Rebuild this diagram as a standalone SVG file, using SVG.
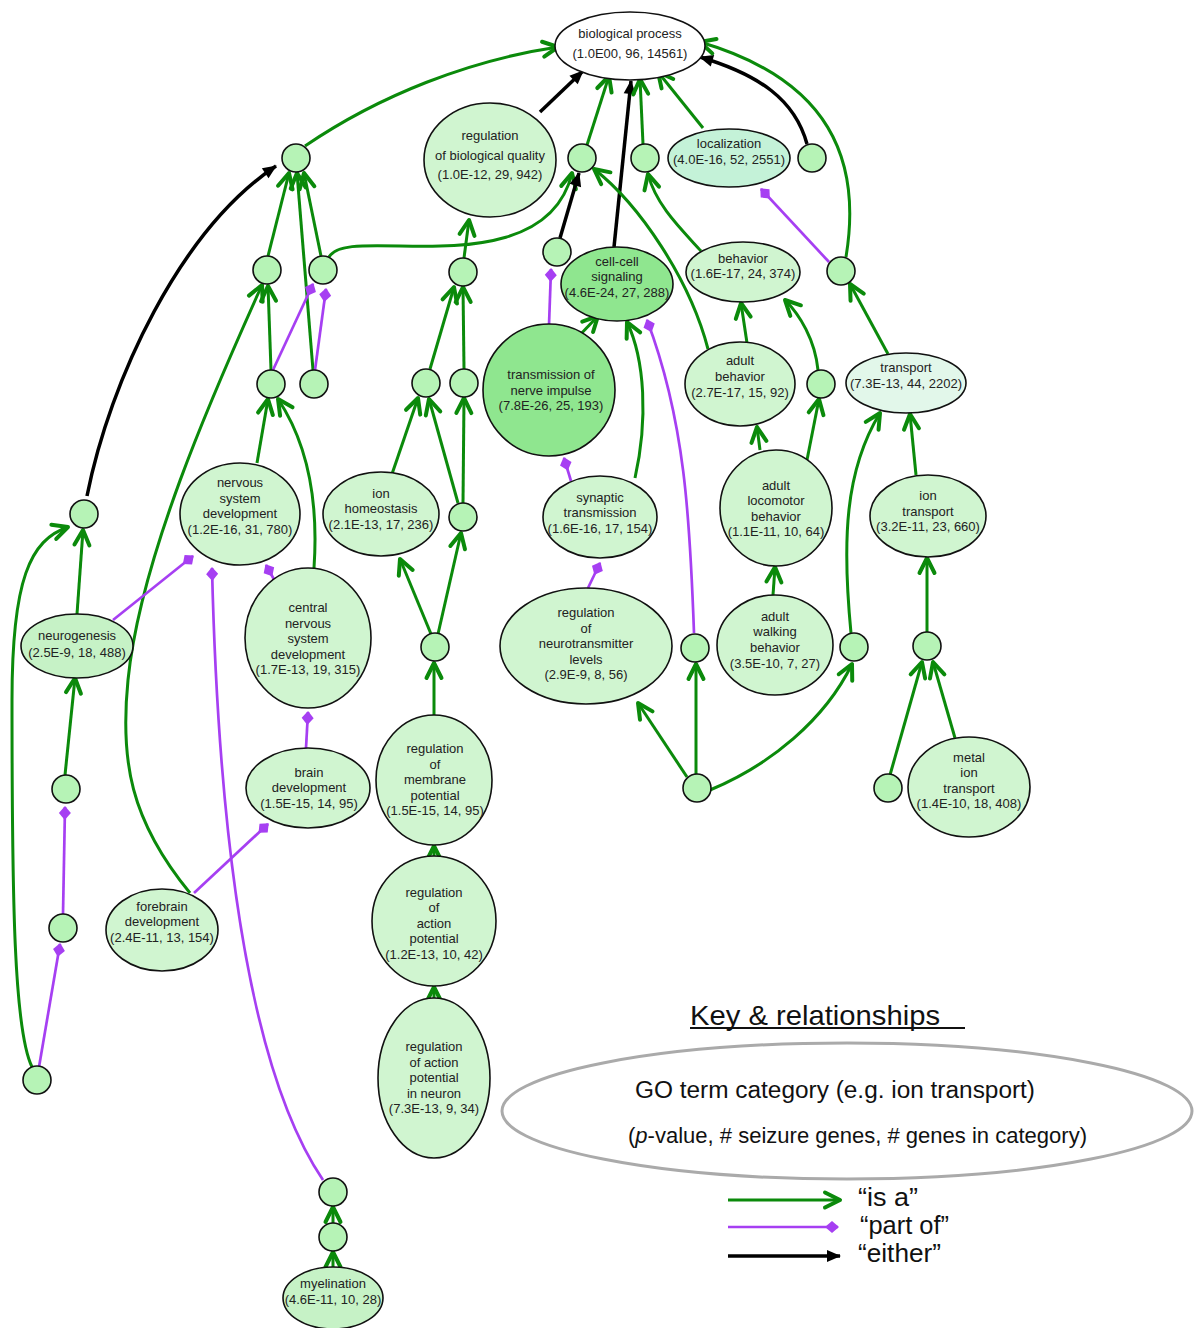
<svg xmlns="http://www.w3.org/2000/svg" width="1194" height="1328" viewBox="0 0 1194 1328">
<style>
.n{stroke:#111;stroke-width:1.6}
.sm{fill:#b6f3b6}
.lt{fill:#d0f5d0}
.dk{fill:#8fe68f}
.ng{fill:#c6f2c6}
.t{font-family:"Liberation Sans",Arial,sans-serif;font-size:13px;fill:#222;text-anchor:middle}
.isa{stroke:#0b8a0b;stroke-width:3;fill:none;marker-end:url(#mIsa)}
.either{stroke:#000;stroke-width:3.5;fill:none;marker-end:url(#mEither)}
.part{stroke:#a63ff2;stroke-width:2.7;fill:none;marker-end:url(#mPart)}
.lg{font-family:"Liberation Sans",Arial,sans-serif;fill:#111}
</style>
<defs>
<marker id="mIsa" viewBox="0 0 18 18" refX="16" refY="9" markerWidth="18" markerHeight="18" markerUnits="userSpaceOnUse" orient="auto" overflow="visible"><path d="M1,1.5 L16,9 L1,16.5" fill="none" stroke="#0b8a0b" stroke-width="4" stroke-linejoin="round" stroke-linecap="round"/></marker>
<marker id="mEither" viewBox="0 0 14 12" refX="13" refY="6" markerWidth="14" markerHeight="12" markerUnits="userSpaceOnUse" orient="auto" overflow="visible"><path d="M0,0 L14,6 L0,12 Z" fill="#000"/></marker>
<marker id="mPart" viewBox="0 0 14 12" refX="13" refY="6" markerWidth="14" markerHeight="12" markerUnits="userSpaceOnUse" orient="auto" overflow="visible"><path d="M0,6 L7,0 L14,6 L7,12 Z" fill="#a63ff2"/></marker>
</defs>
<rect width="1194" height="1328" fill="#fff"/>
<g id="connectors">
<path class="isa" d="M305,146 C380,95 470,60 558,47"/>
<path class="either" d="M540,112 L583,71"/>
<path class="isa" d="M587,145 L609,76"/>
<path class="either" d="M614,247 L631,81"/>
<path class="isa" d="M643,144 L640,79"/>
<path class="isa" d="M703,128 L658,72"/>
<path class="either" d="M807,144 C795,100 760,75 700,57"/>
<path class="isa" d="M846,257 C862,160 830,80 700,42"/>
<path class="either" d="M87,496 C110,380 180,230 276,166"/>
<path class="isa" d="M268,256 L289,173"/>
<path class="isa" d="M313,370 L297,173"/>
<path class="isa" d="M321,256 L304,173"/>
<path class="isa" d="M271,370 L268,286"/>
<path class="isa" d="M190,893 C130,820 120,760 128,680 C140,560 210,400 262,285"/>
<path class="isa" d="M329,257 C336,245 360,245 400,246 C470,248 555,245 572,173"/>
<path class="isa" d="M257,463 L268,399"/>
<path class="isa" d="M314,568 C318,510 312,450 278,399"/>
<path class="isa" d="M77,614 L83,530"/>
<path class="isa" d="M32,1067 C14,1030 12,900 12,700 C12,580 30,540 68,527"/>
<path class="isa" d="M65,775 L75,678"/>
<path class="isa" d="M333,1223 L333,1207"/>
<path class="isa" d="M333,1267 L333,1252"/>
<path class="isa" d="M464,258 L469,220"/>
<path class="isa" d="M430,369 L454,287"/>
<path class="isa" d="M464,369 L463,287"/>
<path class="isa" d="M392,474 L418,398"/>
<path class="isa" d="M458,503 L429,399"/>
<path class="isa" d="M463,503 L464,398"/>
<path class="isa" d="M431,634 L400,559"/>
<path class="isa" d="M438,634 L461,533"/>
<path class="isa" d="M434,715 L434,663"/>
<path class="isa" d="M434,856 L434,846"/>
<path class="isa" d="M434,998 L434,987"/>
<path class="either" d="M560,238 L579,173"/>
<path class="isa" d="M577,338 L598,316"/>
<path class="isa" d="M635,478 C648,420 645,360 627,322"/>
<path class="isa" d="M708,349 C690,280 640,205 594,169"/>
<path class="isa" d="M701,251 C680,228 656,205 648,174"/>
<path class="isa" d="M888,354 L850,284"/>
<path class="isa" d="M747,343 L741,303"/>
<path class="isa" d="M818,370 C815,340 800,315 785,300"/>
<path class="isa" d="M760,450 L757,427"/>
<path class="isa" d="M806,465 L819,399"/>
<path class="isa" d="M773,595 L775,567"/>
<path class="isa" d="M916,475 L910,414"/>
<path class="isa" d="M851,633 C842,540 845,470 880,413"/>
<path class="isa" d="M927,632 L927,558"/>
<path class="isa" d="M890,775 L922,662"/>
<path class="isa" d="M955,738 L933,662"/>
<path class="isa" d="M687,777 L638,703"/>
<path class="isa" d="M696,774 L696,664"/>
<path class="isa" d="M710,790 C770,765 825,720 852,664"/>
<path class="part" d="M273,370 L313,284"/>
<path class="part" d="M315,370 L326,289"/>
<path class="part" d="M113,620 L193,556"/>
<path class="part" d="M281,592 L266,565"/>
<path class="part" d="M323,1180 C262,1090 220,900 212,568"/>
<path class="part" d="M63,914 L65,807"/>
<path class="part" d="M39,1067 L60,944"/>
<path class="part" d="M306,748 L308,712"/>
<path class="part" d="M194,893 L268,824"/>
<path class="part" d="M549,325 L551,269"/>
<path class="part" d="M694,633 C690,520 685,420 647,320"/>
<path class="part" d="M571,481 L564,458"/>
<path class="part" d="M588,588 L600,563"/>
<path class="part" d="M829,262 L761,189"/>
</g>
<g id="n_bp"><ellipse class="n" cx="630" cy="46" rx="75" ry="34" fill="#fff"/><text class="t"><tspan x="630" y="38">biological process</tspan><tspan x="630" y="58">(1.0E00, 96, 14561)</tspan></text></g>
<g id="n_c1"><circle class="n sm" cx="296" cy="158" r="14"/></g>
<g id="n_regqual"><ellipse class="n lt" cx="490" cy="160" rx="66" ry="57"/><text class="t"><tspan x="490" y="140">regulation</tspan><tspan x="490" y="160">of biological quality</tspan><tspan x="490" y="179">(1.0E-12, 29, 942)</tspan></text></g>
<g id="n_c2"><circle class="n sm" cx="582" cy="158" r="14"/></g>
<g id="n_c3"><circle class="n sm" cx="645" cy="158" r="14"/></g>
<g id="n_localization"><ellipse class="n" cx="729" cy="158" rx="61" ry="29" fill="#c4f2d8"/><text class="t"><tspan x="729" y="148">localization</tspan><tspan x="729" y="164">(4.0E-16, 52, 2551)</tspan></text></g>
<g id="n_c4"><circle class="n sm" cx="812" cy="158" r="14"/></g>
<g id="n_c5"><circle class="n sm" cx="267" cy="270" r="14"/></g>
<g id="n_c6"><circle class="n sm" cx="323" cy="270" r="14"/></g>
<g id="n_c7"><circle class="n sm" cx="463" cy="272" r="14"/></g>
<g id="n_c8"><circle class="n sm" cx="557" cy="252" r="14"/></g>
<g id="n_cellcell"><ellipse class="n dk" cx="617" cy="284" rx="56" ry="37"/><text class="t"><tspan x="617" y="266">cell-cell</tspan><tspan x="617" y="281">signaling</tspan><tspan x="617" y="297">(4.6E-24, 27, 288)</tspan></text></g>
<g id="n_behavior"><ellipse class="n lt" cx="743" cy="272" rx="57" ry="30"/><text class="t"><tspan x="743" y="263">behavior</tspan><tspan x="743" y="278">(1.6E-17, 24, 374)</tspan></text></g>
<g id="n_c9"><circle class="n sm" cx="841" cy="271" r="14"/></g>
<g id="n_c10"><circle class="n sm" cx="271" cy="384" r="14"/></g>
<g id="n_c11"><circle class="n sm" cx="314" cy="384" r="14"/></g>
<g id="n_c12"><circle class="n sm" cx="426" cy="383" r="14"/></g>
<g id="n_c13"><circle class="n sm" cx="464" cy="383" r="14"/></g>
<g id="n_tni"><ellipse class="n dk" cx="549" cy="390" rx="66" ry="66"/><text class="t"><tspan x="551" y="379">transmission of</tspan><tspan x="551" y="395">nerve impulse</tspan><tspan x="551" y="410">(7.8E-26, 25, 193)</tspan></text></g>
<g id="n_adultbeh"><ellipse class="n lt" cx="740" cy="384" rx="55" ry="42"/><text class="t"><tspan x="740" y="365">adult</tspan><tspan x="740" y="381">behavior</tspan><tspan x="740" y="397">(2.7E-17, 15, 92)</tspan></text></g>
<g id="n_c14"><circle class="n sm" cx="821" cy="384" r="14"/></g>
<g id="n_transport"><ellipse class="n" cx="906" cy="383" rx="60" ry="30" fill="#e2f7ea"/><text class="t"><tspan x="906" y="372">transport</tspan><tspan x="906" y="388">(7.3E-13, 44, 2202)</tspan></text></g>
<g id="n_nsd"><ellipse class="n lt" cx="240" cy="514" rx="60" ry="51"/><text class="t"><tspan x="240" y="487">nervous</tspan><tspan x="240" y="503">system</tspan><tspan x="240" y="518">development</tspan><tspan x="240" y="534">(1.2E-16, 31, 780)</tspan></text></g>
<g id="n_c15"><circle class="n sm" cx="84" cy="514" r="14"/></g>
<g id="n_ionhomeo"><ellipse class="n lt" cx="381" cy="514" rx="58" ry="42"/><text class="t"><tspan x="381" y="498">ion</tspan><tspan x="381" y="513">homeostasis</tspan><tspan x="381" y="529">(2.1E-13, 17, 236)</tspan></text></g>
<g id="n_c16"><circle class="n sm" cx="463" cy="517" r="14"/></g>
<g id="n_synaptic"><ellipse class="n lt" cx="600" cy="517" rx="57" ry="41"/><text class="t"><tspan x="600" y="502">synaptic</tspan><tspan x="600" y="517">transmission</tspan><tspan x="600" y="533">(1.6E-16, 17, 154)</tspan></text></g>
<g id="n_adultloco"><ellipse class="n lt" cx="776" cy="508" rx="56" ry="58"/><text class="t"><tspan x="776" y="490">adult</tspan><tspan x="776" y="505">locomotor</tspan><tspan x="776" y="521">behavior</tspan><tspan x="776" y="536">(1.1E-11, 10, 64)</tspan></text></g>
<g id="n_iontransport"><ellipse class="n lt" cx="928" cy="516" rx="58" ry="41"/><text class="t"><tspan x="928" y="500">ion</tspan><tspan x="928" y="516">transport</tspan><tspan x="928" y="531">(3.2E-11, 23, 660)</tspan></text></g>
<g id="n_neurogenesis"><ellipse class="n ng" cx="77" cy="646" rx="56" ry="32"/><text class="t"><tspan x="77" y="640">neurogenesis</tspan><tspan x="77" y="657">(2.5E-9, 18, 488)</tspan></text></g>
<g id="n_cns"><ellipse class="n lt" cx="308" cy="638" rx="63" ry="70"/><text class="t"><tspan x="308" y="612">central</tspan><tspan x="308" y="628">nervous</tspan><tspan x="308" y="643">system</tspan><tspan x="308" y="659">development</tspan><tspan x="308" y="674">(1.7E-13, 19, 315)</tspan></text></g>
<g id="n_c17"><circle class="n sm" cx="435" cy="647" r="14"/></g>
<g id="n_regnt"><ellipse class="n lt" cx="586" cy="646" rx="86" ry="58"/><text class="t"><tspan x="586" y="617">regulation</tspan><tspan x="586" y="633">of</tspan><tspan x="586" y="648">neurotransmitter</tspan><tspan x="586" y="664">levels</tspan><tspan x="586" y="679">(2.9E-9, 8, 56)</tspan></text></g>
<g id="n_c18"><circle class="n sm" cx="695" cy="648" r="14"/></g>
<g id="n_adultwalk"><ellipse class="n lt" cx="775" cy="645" rx="58" ry="50"/><text class="t"><tspan x="775" y="621">adult</tspan><tspan x="775" y="636">walking</tspan><tspan x="775" y="652">behavior</tspan><tspan x="775" y="668">(3.5E-10, 7, 27)</tspan></text></g>
<g id="n_c19"><circle class="n sm" cx="854" cy="647" r="14"/></g>
<g id="n_c20"><circle class="n sm" cx="927" cy="646" r="14"/></g>
<g id="n_c21"><circle class="n sm" cx="66" cy="789" r="14"/></g>
<g id="n_brain"><ellipse class="n lt" cx="308" cy="788" rx="62" ry="40"/><text class="t"><tspan x="309" y="777">brain</tspan><tspan x="309" y="792">development</tspan><tspan x="309" y="808">(1.5E-15, 14, 95)</tspan></text></g>
<g id="n_regmp"><ellipse class="n lt" cx="434" cy="780" rx="58" ry="65"/><text class="t"><tspan x="435" y="753">regulation</tspan><tspan x="435" y="769">of</tspan><tspan x="435" y="784">membrane</tspan><tspan x="435" y="800">potential</tspan><tspan x="435" y="815">(1.5E-15, 14, 95)</tspan></text></g>
<g id="n_c22"><circle class="n sm" cx="697" cy="788" r="14"/></g>
<g id="n_c23"><circle class="n sm" cx="888" cy="788" r="14"/></g>
<g id="n_metal"><ellipse class="n lt" cx="969" cy="787" rx="61" ry="50"/><text class="t"><tspan x="969" y="762">metal</tspan><tspan x="969" y="777">ion</tspan><tspan x="969" y="793">transport</tspan><tspan x="969" y="808">(1.4E-10, 18, 408)</tspan></text></g>
<g id="n_c24"><circle class="n sm" cx="63" cy="928" r="14"/></g>
<g id="n_forebrain"><ellipse class="n lt" cx="162" cy="930" rx="56" ry="41"/><text class="t"><tspan x="162" y="911">forebrain</tspan><tspan x="162" y="926">development</tspan><tspan x="162" y="942">(2.4E-11, 13, 154)</tspan></text></g>
<g id="n_regap"><ellipse class="n lt" cx="434" cy="921" rx="62" ry="65"/><text class="t"><tspan x="434" y="897">regulation</tspan><tspan x="434" y="912">of</tspan><tspan x="434" y="928">action</tspan><tspan x="434" y="943">potential</tspan><tspan x="434" y="959">(1.2E-13, 10, 42)</tspan></text></g>
<g id="n_c25"><circle class="n sm" cx="37" cy="1080" r="14"/></g>
<g id="n_regapn"><ellipse class="n lt" cx="434" cy="1078" rx="56" ry="80"/><text class="t"><tspan x="434" y="1051">regulation</tspan><tspan x="434" y="1067">of action</tspan><tspan x="434" y="1082">potential</tspan><tspan x="434" y="1098">in neuron</tspan><tspan x="434" y="1113">(7.3E-13, 9, 34)</tspan></text></g>
<g id="n_c26"><circle class="n sm" cx="333" cy="1192" r="14"/></g>
<g id="n_c27"><circle class="n sm" cx="333" cy="1237" r="14"/></g>
<g id="n_myelination"><ellipse class="n ng" cx="333" cy="1298" rx="50" ry="31"/><text class="t"><tspan x="333" y="1288">myelination</tspan><tspan x="333" y="1304">(4.6E-11, 10, 28)</tspan></text></g>
<g id="legend">
<text class="lg" x="690" y="1025" font-size="28" textLength="250" lengthAdjust="spacingAndGlyphs">Key &amp; relationships</text>
<line x1="690" y1="1028" x2="965" y2="1028" stroke="#111" stroke-width="2"/>
<ellipse cx="847" cy="1111" rx="345" ry="68" fill="none" stroke="#aaa" stroke-width="3"/>
<text class="lg" x="635" y="1098" font-size="23" textLength="400" lengthAdjust="spacingAndGlyphs">GO term category (e.g. ion transport)</text>
<text class="lg" x="628" y="1143" font-size="22" textLength="459" lengthAdjust="spacingAndGlyphs">(<tspan font-style="italic">p</tspan>-value, # seizure genes, # genes in category)</text>
<path class="isa" d="M728,1200 L840,1200"/>
<path class="part" d="M728,1227 L838,1227"/>
<path class="either" d="M728,1256 L840,1256"/>
<text class="lg" x="858" y="1206" font-size="25" textLength="60" lengthAdjust="spacingAndGlyphs">“is a”</text>
<text class="lg" x="860" y="1234" font-size="25" textLength="89" lengthAdjust="spacingAndGlyphs">“part of”</text>
<text class="lg" x="858" y="1262" font-size="25" textLength="83" lengthAdjust="spacingAndGlyphs">“either”</text>
</g>
</svg>
